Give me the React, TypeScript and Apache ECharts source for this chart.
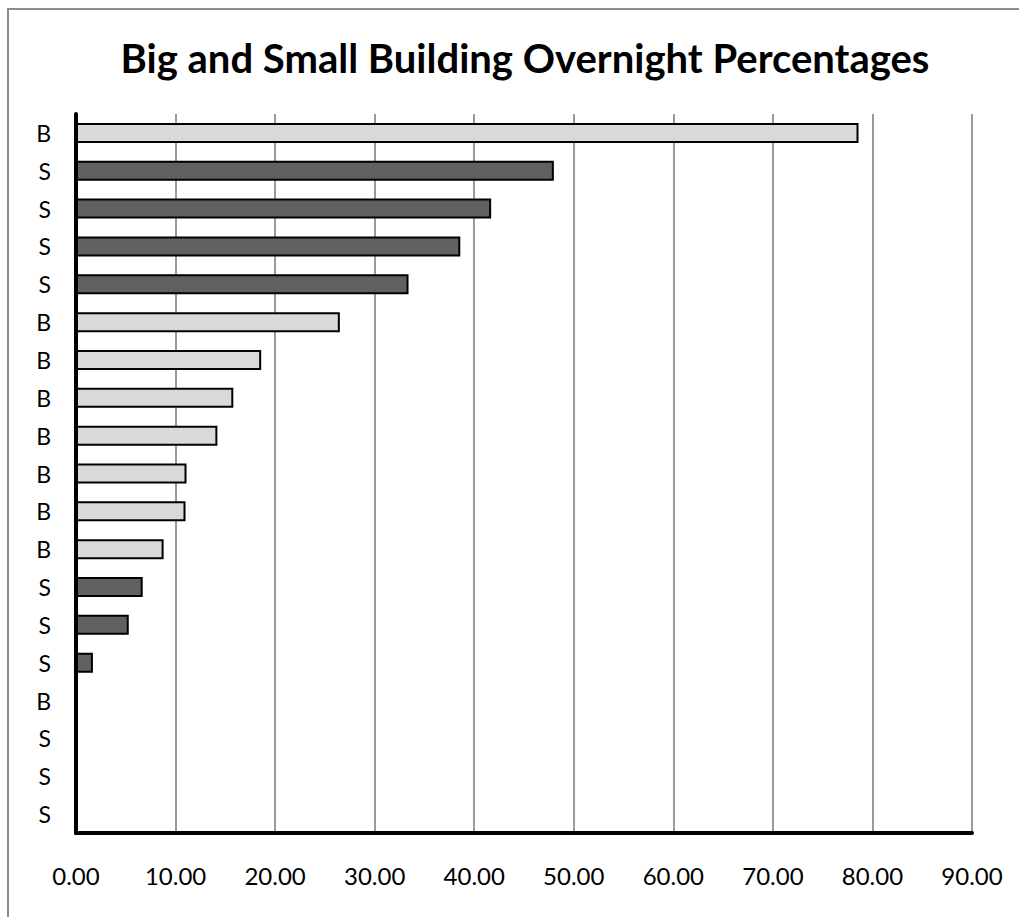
import React, { useEffect, useRef } from "react";
import * as echarts from "echarts";

const chartTitle = "Big and Small Building Overnight Percentages";
const buildingTypes = ["B", "S", "S", "S", "S", "B", "B", "B", "B", "B", "B", "B", "S", "S", "S", "B", "S", "S", "S"];
const overnightPct = [78.6, 48.0, 41.7, 38.6, 33.4, 26.5, 18.6, 15.8, 14.2, 11.1, 11.0, 8.8, 6.7, 5.3, 1.7, 0, 0, 0, 0];
const xMin = 0;
const xMax = 90;
const xStep = 10;
const typeColors: Record<string, string> = { B: "#d9d9d9", S: "#606060" };

const FONT = "Lato, 'Open Sans', sans-serif";

export default function App() {
  const ref = useRef<HTMLDivElement>(null);
  useEffect(() => {
    if (!ref.current) return;
    const chart = echarts.init(ref.current, null, { renderer: "svg" });
    chart.setOption({
      animation: false,
      backgroundColor: "#ffffff",
      title: {
        text: chartTitle,
        left: 520,
        top: 33,
        textAlign: "center",
        textStyle: { fontFamily: FONT, fontWeight: "bold", fontSize: 40, color: "#000" },
      },
      graphic: [
        {
          type: "rect",
          shape: { x: 8, y: 9, width: 1200, height: 1200 },
          style: { fill: "none", stroke: "#8c8c8c", lineWidth: 2 },
          silent: true,
        },
      ],
      grid: { left: 76, right: 47, top: 114, bottom: 84, containLabel: false },
      xAxis: {
        type: "value",
        min: xMin,
        max: xMax,
        interval: xStep,
        axisLine: { show: true, onZero: false, lineStyle: { color: "#000", width: 4 } },
        axisTick: { show: false },
        splitLine: { show: true, lineStyle: { color: "#9a9a9a", width: 2 } },
        axisLabel: {
          margin: 30,
          fontFamily: FONT,
          fontSize: 24,
          color: "#000",
          formatter: (v: number) => v.toFixed(2),
        },
      },
      yAxis: {
        type: "category",
        inverse: true,
        data: buildingTypes,
        axisLine: { show: true, lineStyle: { color: "#000", width: 4 } },
        axisTick: { show: false },
        splitLine: { show: false },
        axisLabel: { margin: 25, fontFamily: FONT, fontSize: 23, color: "#000" },
      },
      series: [
        {
          type: "bar",
          data: overnightPct.map((v, i) => ({
            value: v,
            itemStyle: { color: typeColors[buildingTypes[i]] },
          })),
          barWidth: 20,
          itemStyle: { borderColor: "#000", borderWidth: 2 },
        },
      ],
    });
    return () => chart.dispose();
  }, []);
  return (
    <div
      ref={ref}
      style={{ position: "absolute", left: 0, top: 0, width: 1019, height: 917 }}
    />
  );
}
